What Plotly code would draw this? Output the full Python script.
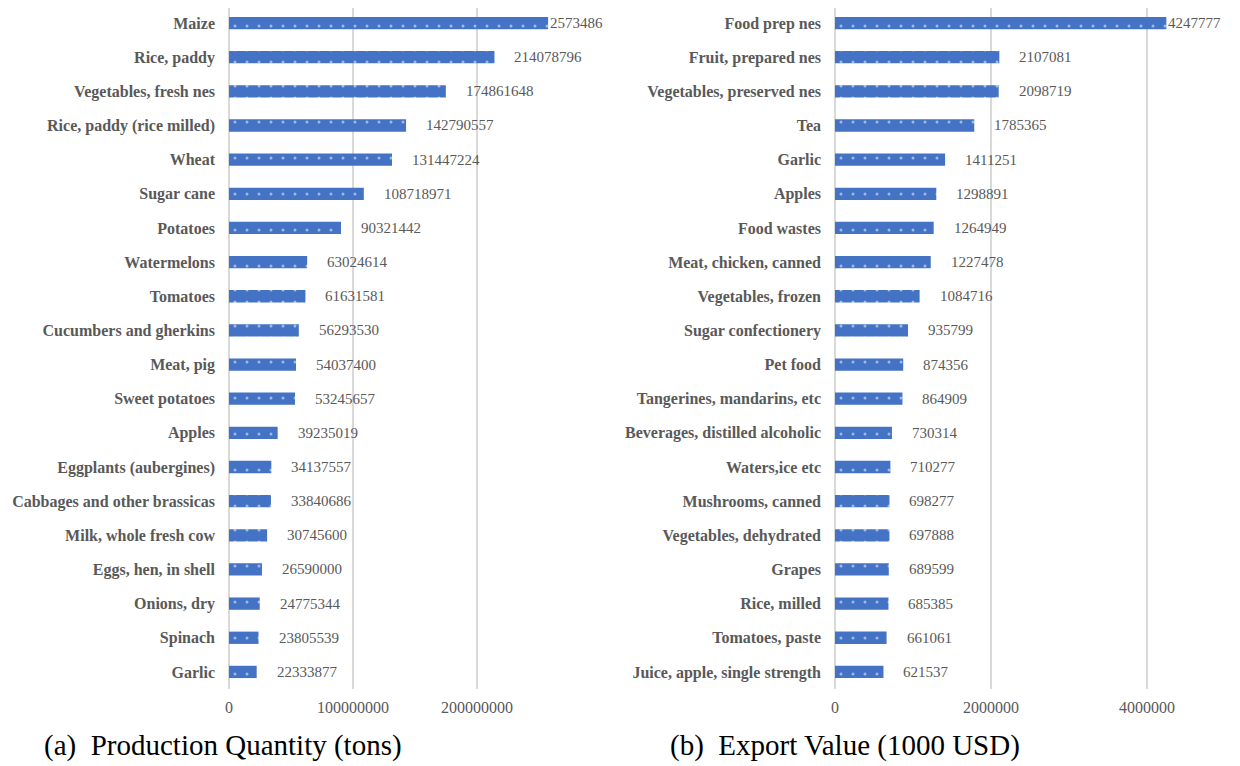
import plotly.graph_objects as go
from plotly.subplots import make_subplots

prod_items = ["Maize", "Rice, paddy", "Vegetables, fresh nes", "Rice, paddy (rice milled)", "Wheat",
              "Sugar cane", "Potatoes", "Watermelons", "Tomatoes", "Cucumbers and gherkins",
              "Meat, pig", "Sweet potatoes", "Apples", "Eggplants (aubergines)",
              "Cabbages and other brassicas", "Milk, whole fresh cow", "Eggs, hen, in shell",
              "Onions, dry", "Spinach", "Garlic"]
prod_values = [257348600, 214078796, 174861648, 142790557, 131447224, 108718971, 90321442,
               63024614, 61631581, 56293530, 54037400, 53245657, 39235019, 34137557,
               33840686, 30745600, 26590000, 24775344, 23805539, 22333877]
prod_labels = ["2573486", "214078796", "174861648", "142790557", "131447224", "108718971",
               "90321442", "63024614", "61631581", "56293530", "54037400", "53245657",
               "39235019", "34137557", "33840686", "30745600", "26590000", "24775344",
               "23805539", "22333877"]

exp_items = ["Food prep nes", "Fruit, prepared nes", "Vegetables, preserved nes", "Tea", "Garlic",
             "Apples", "Food wastes", "Meat, chicken, canned", "Vegetables, frozen",
             "Sugar confectionery", "Pet food", "Tangerines, mandarins, etc",
             "Beverages, distilled alcoholic", "Waters,ice etc", "Mushrooms, canned",
             "Vegetables, dehydrated", "Grapes", "Rice, milled", "Tomatoes, paste",
             "Juice, apple, single strength"]
exp_values = [4247777, 2107081, 2098719, 1785365, 1411251, 1298891, 1264949, 1227478, 1084716,
              935799, 874356, 864909, 730314, 710277, 698277, 697888, 689599, 685385, 661061,
              621537]
exp_labels = [str(v) for v in exp_values]

titles = ["(a)\u00a0\u00a0Production Quantity (tons)", "(b)\u00a0\u00a0Export Value (1000 USD)"]

BAR = "#4472C4"
GRAY = "#595959"
FONT = "Liberation Serif"
W, H, OFF = 1240, 766, 8  # page body margin offset


def fx(px):
    return (px - OFF) / W


def fy(py):
    return 1 - (py - OFF) / H


fig = make_subplots(rows=1, cols=2)

pattern = dict(shape=".", fgcolor="white", bgcolor=BAR, size=12, solidity=0.05)

fig.add_trace(go.Bar(x=prod_values, y=prod_items, orientation="h", width=0.36,
                     marker=dict(color=BAR, pattern=pattern, line=dict(width=0))),
              row=1, col=1)
fig.add_trace(go.Bar(x=exp_values, y=exp_items, orientation="h", width=0.36,
                     marker=dict(color=BAR, pattern=pattern, line=dict(width=0))),
              row=1, col=2)

for xs, ys, labs, xref, yref in [(prod_values, prod_items, prod_labels, "x", "y"),
                                 (exp_values, exp_items, exp_labels, "x2", "y2")]:
    mx = max(xs)
    for xv, yv, t in zip(xs, ys, labs):
        fig.add_annotation(x=xv, y=yv, xref=xref, yref=yref, text=t, showarrow=False,
                           xanchor="left", xshift=0 if xv == mx else 18,
                           font=dict(family=FONT, size=15, color=GRAY))

n = len(prod_items)
top = 1.0
bot = fy(689)
axis_common = dict(showgrid=True, gridcolor="#D9D9D9", gridwidth=1.5, zeroline=True,
                   zerolinecolor="#D9D9D9", zerolinewidth=1.5, showline=False, ticks="",
                   automargin=False, ticklabelstandoff=7,
                   tickfont=dict(family=FONT, size=16, color=GRAY), tickformat="d")
fig.update_xaxes(**axis_common)
fig.update_layout(
    xaxis=dict(domain=[fx(229), fx(229 + 2.9 * 124)], range=[0, 2.9e8], dtick=1e8),
    xaxis2=dict(domain=[fx(835), fx(835 + 4.6 * 78)], range=[0, 4.6e6], dtick=2e6),
    yaxis=dict(domain=[bot, top], range=[n - 0.5, -0.44]),
    yaxis2=dict(domain=[bot, top], range=[n - 0.5, -0.44]),
)
fig.update_yaxes(showgrid=False, zeroline=False, showline=False, ticks="",
                 automargin=False, ticklabelstandoff=13,
                 tickfont=dict(family=FONT, size=16, color=GRAY, weight="bold"))

for t, xp in zip(titles, [fx(42), fx(668)]):
    fig.add_annotation(text=t, xref="paper", yref="paper", x=xp, y=fy(745),
                       xanchor="left", yanchor="middle", showarrow=False,
                       font=dict(family=FONT, size=29, color="black"))

fig.update_layout(width=W, height=H, margin=dict(l=0, r=0, t=0, b=0),
                  plot_bgcolor="white", paper_bgcolor="white", showlegend=False)

fig.write_html("out.html")
